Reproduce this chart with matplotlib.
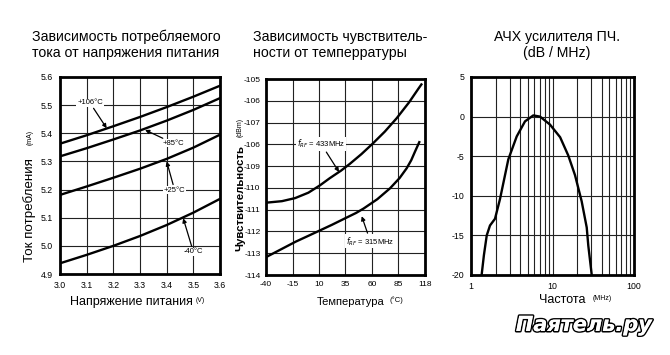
import matplotlib
matplotlib.use("Agg")
import matplotlib.pyplot as plt
import matplotlib.patheffects as pe
import matplotlib.ticker as mticker

plt.rcParams['font.family'] = ['Liberation Sans Narrow', 'Liberation Sans', 'DejaVu Sans']

# ---- Panel 1 data: current vs supply voltage ----
volt = [3.0, 3.1, 3.2, 3.3, 3.4, 3.5, 3.6]
cur_106 = [5.363, 5.393, 5.425, 5.458, 5.493, 5.530, 5.569]
cur_85 = [5.318, 5.347, 5.378, 5.410, 5.445, 5.483, 5.525]
cur_25 = [5.181, 5.211, 5.242, 5.274, 5.309, 5.349, 5.395]
cur_m40 = [4.938, 4.968, 5.000, 5.035, 5.074, 5.118, 5.167]
p1_xticks = [3.0, 3.1, 3.2, 3.3, 3.4, 3.5, 3.6]
p1_yticks = [4.9, 5.0, 5.1, 5.2, 5.3, 5.4, 5.5, 5.6]
p1_ytick_labels = ['4.9', '5.0', '5.1', '5.2', '5.3', '5.4', '5.5', '5.6']

# ---- Panel 2 data: sensitivity vs temperature ----
temp_433 = [-40, -25, -12.6, 0, 11, 20, 31, 39, 50, 60.6, 72, 83.3, 95, 103.7, 106.6]
sens_433 = [-110.68, -110.61, -110.47, -110.22, -109.88, -109.56, -109.2, -108.9,
            -108.45, -107.97, -107.42, -106.8, -106.07, -105.45, -105.25]
temp_315 = [-40, -25, -12, 0, 11, 22, 34.5, 45, 52, 65, 77, 86, 92.7, 97, 100.6, 104.6]
sens_315 = [-113.18, -112.8, -112.47, -112.2, -111.95, -111.7, -111.4, -111.15,
            -110.95, -110.52, -110.02, -109.55, -109.1, -108.73, -108.33, -107.9]
p2_xticks = [-40, -15, 10, 35, 60, 85, 110]
p2_xtick_labels = ['-40', '-15', '10', '35', '60', '85', '118']
p2_yticks = [-114, -113, -112, -111, -110, -109, -108, -107, -106, -105]
p2_ytick_labels = ['-114', '-113', '-112', '-111', '-110', '-109', '-106', '-107', '-106', '-105']

# ---- Panel 3 data: IF amplifier frequency response ----
freq = [1.35, 1.44, 1.56, 1.71, 1.97, 2.27, 2.87, 3.64, 4.6, 5.81, 7.03, 9.3,
        12.4, 15.6, 18.9, 22.8, 26.3, 27.5, 30.3]
gain = [-20, -17.5, -15, -13.75, -12.9, -10.4, -5.4, -2.5, -0.6, 0.15, 0.0, -1.0,
        -2.6, -4.9, -7.4, -10.7, -14.0, -16.3, -20]
p3_yticks = [-20, -15, -10, -5, 0, 5]

W, H = 670, 355
fig = plt.figure(figsize=(6.7, 3.55), dpi=100)
fig.patch.set_facecolor('white')

LW = 1.7
GRID = dict(color='#222222', linewidth=0.8)


def px_axes(l, r, t, b):
    return fig.add_axes([l / W, 1 - b / H, (r - l) / W, (b - t) / H])


def style_axes(ax, fs=6.3, pad=5):
    for s in ax.spines.values():
        s.set_linewidth(2.0)
        s.set_color('black')
    ax.tick_params(which='both', length=0, labelsize=fs, pad=pad)
    ax.set_axisbelow(True)


ann_kw = dict(fontsize=5.5, color='black', ha='center', va='center',
              arrowprops=dict(arrowstyle='-|>', color='black', lw=0.9, mutation_scale=6,
                              shrinkA=1, shrinkB=0),
              bbox=dict(boxstyle='square,pad=0.1', fc='white', ec='none'))

# Panel 1
ax1 = px_axes(60, 220, 77, 274)
for y in (cur_106, cur_85, cur_25, cur_m40):
    ax1.plot(volt, y, color='black', lw=LW)
ax1.set_xlim(3.0, 3.6)
ax1.set_ylim(4.9, 5.6)
ax1.set_xticks(p1_xticks)
ax1.set_xticklabels([f'{v:.1f}' for v in p1_xticks])
ax1.set_yticks(p1_yticks)
ax1.set_yticklabels(p1_ytick_labels)
ax1.grid(True, **GRID)
style_axes(ax1)
ax1.annotate('+106°C', xy=(3.175, 5.418), xytext=(3.1125, 5.508), **ann_kw)
ax1.annotate('+85°C', xy=(3.319, 5.412), xytext=(3.424, 5.365), **ann_kw)
ax1.annotate('+25°C', xy=(3.40, 5.30), xytext=(3.43, 5.198), **ann_kw)
ax1.annotate('-40°C', xy=(3.462, 5.098), xytext=(3.50, 4.979), **ann_kw)

# Panel 2
ax2 = px_axes(266, 425, 79, 275)
ax2.plot(temp_433, sens_433, color='black', lw=LW)
ax2.plot(temp_315, sens_315, color='black', lw=LW)
ax2.set_xlim(-40, 110)
ax2.set_ylim(-114, -105)
ax2.set_xticks(p2_xticks)
ax2.set_xticklabels(p2_xtick_labels)
ax2.set_yticks(p2_yticks)
ax2.set_yticklabels(p2_ytick_labels)
ax2.grid(True, **GRID)
style_axes(ax2, fs=6.0, pad=4)
ax2.annotate('$f_{RF}$ = 433MHz', xy=(28.9, -109.27), xytext=(12, -107.98), **ann_kw)
ax2.annotate('$f_{RF}$ = 315MHz', xy=(50.3, -111.3), xytext=(58.5, -112.46), **ann_kw)

# Panel 3
ax3 = px_axes(471, 634, 77, 275)
ax3.plot(freq, gain, color='black', lw=LW)
ax3.set_xscale('log')
ax3.set_xlim(1, 100)
ax3.set_ylim(-20, 5)
ax3.set_xticks([1, 10, 100])
ax3.set_xticklabels(['1', '10', '100'])
ax3.xaxis.set_minor_locator(mticker.LogLocator(base=10, subs=range(2, 10)))
ax3.xaxis.set_minor_formatter(mticker.NullFormatter())
ax3.set_yticks(p3_yticks)
ax3.set_yticklabels([str(v) for v in p3_yticks])
ax3.grid(True, which='major', **GRID)
ax3.grid(True, which='minor', axis='x', **GRID)
style_axes(ax3)

# Titles
TFS = 10.2
tf = ['Liberation Sans', 'DejaVu Sans']


def ftext(x, y, s, **kw):
    return fig.text(x / W, 1 - y / H, s, **kw)


ftext(126, 37, 'Зависимость потребляемого', ha='center', va='center', fontsize=TFS, family=tf)
ftext(126, 53, 'тока от напряжения питания', ha='center', va='center', fontsize=TFS, family=tf)
ftext(253, 37, 'Зависимость чувствитель-', ha='left', va='center', fontsize=TFS, family=tf)
ftext(253, 53, 'ности от темперратуры', ha='left', va='center', fontsize=TFS, family=tf)
ftext(557, 37, 'АЧХ усилителя ПЧ.', ha='center', va='center', fontsize=TFS, family=tf)
ftext(557, 53, '(dB / MHz)', ha='center', va='center', fontsize=TFS, family=tf)

# Axis labels (main text + small unit)
ftext(30, 210, 'Ток потребления', rotation=90, ha='center', va='center', fontsize=9.6, family=tf)
ftext(30, 137, '(mA)', rotation=90, ha='center', va='center', fontsize=5, family=tf)
ftext(131, 302, 'Напряжение питания', ha='center', va='center', fontsize=9, family=tf)
ftext(200, 300, '(V)', ha='center', va='center', fontsize=5, family=tf)

ftext(240, 198, 'Чувствительность', rotation=90, ha='center', va='center',
      fontsize=8.2, family=tf, fontweight='bold')
ftext(240, 127, '(dBm)', rotation=90, ha='center', va='center', fontsize=5, family=tf)
ftext(351, 302, 'Температура', ha='center', va='center', fontsize=8, family=tf)
ftext(396, 300, '(°C)', ha='center', va='center', fontsize=5.5, family=tf)

ftext(562, 300, 'Частота', ha='center', va='center', fontsize=9, family=tf)
ftext(602, 298, '(MHz)', ha='center', va='center', fontsize=5, family=tf)

# Watermark
wm = ftext(584, 325, 'Паятель.ру', ha='center', va='center', fontsize=15,
           fontstyle='italic', fontweight='bold', color='white', family=['DejaVu Sans'])
wm.set_path_effects([pe.withStroke(linewidth=2.2, foreground='black'), pe.Normal()])

fig.savefig('out.png', dpi=100, facecolor='white')
